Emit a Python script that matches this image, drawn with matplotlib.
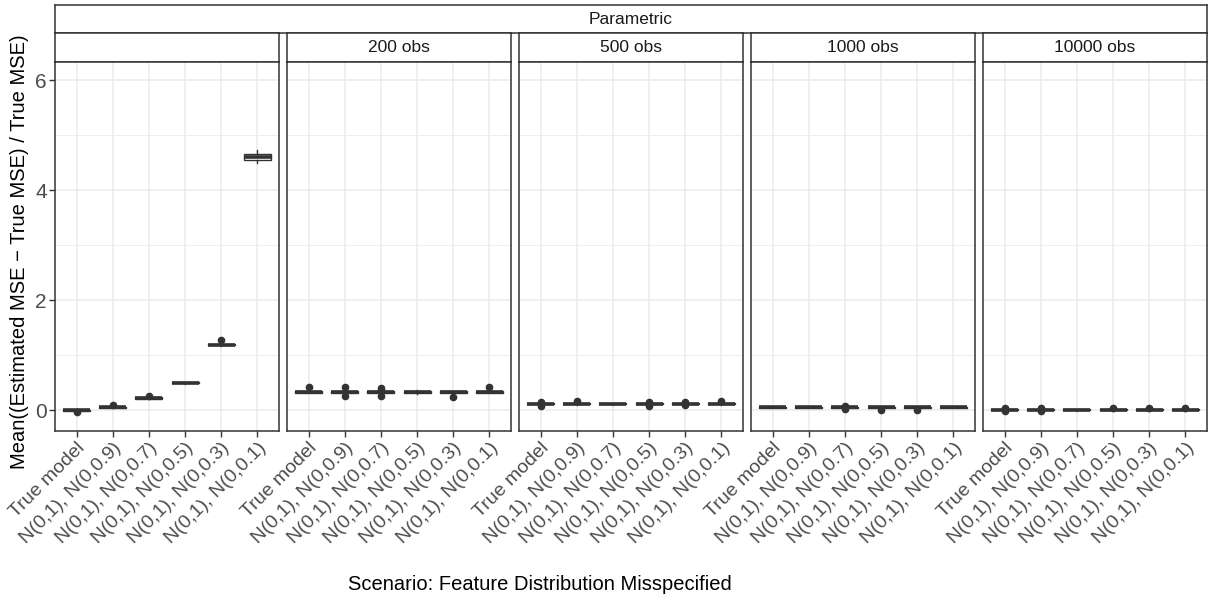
import matplotlib
matplotlib.use("Agg")
import matplotlib.pyplot as plt

plt.rcParams['font.family'] = ['Liberation Sans', 'DejaVu Sans']

# ----------------------------
# Data
# ----------------------------
group_label = "Parametric"
panels = ["", "200 obs", "500 obs", "1000 obs", "10000 obs"]
scenarios = ["True model", "N(0,1), N(0,0.9)", "N(0,1), N(0,0.7)",
             "N(0,1), N(0,0.5)", "N(0,1), N(0,0.3)", "N(0,1), N(0,0.1)"]

medians = [
    [0.00, 0.055, 0.22, 0.50, 1.19, 4.60],
    [0.33, 0.33, 0.33, 0.33, 0.33, 0.33],
    [0.115, 0.115, 0.115, 0.115, 0.115, 0.115],
    [0.05, 0.05, 0.05, 0.05, 0.05, 0.05],
    [0.005, 0.005, 0.005, 0.005, 0.005, 0.005],
]
q1s = [
    [-0.01, 0.045, 0.21, 0.49, 1.18, 4.55],
    [0.32, 0.32, 0.32, 0.32, 0.32, 0.32],
    [0.105, 0.105, 0.105, 0.105, 0.105, 0.105],
    [0.04, 0.04, 0.04, 0.04, 0.04, 0.04],
    [-0.005, -0.005, -0.005, -0.005, -0.005, -0.005],
]
q3s = [
    [0.01, 0.065, 0.23, 0.51, 1.20, 4.65],
    [0.34, 0.34, 0.34, 0.34, 0.34, 0.34],
    [0.125, 0.125, 0.125, 0.125, 0.125, 0.125],
    [0.06, 0.06, 0.06, 0.06, 0.06, 0.06],
    [0.015, 0.015, 0.015, 0.015, 0.015, 0.015],
]
whis_lo = [
    [-0.02, 0.04, 0.20, 0.48, 1.17, 4.49],
    [0.31, 0.31, 0.31, 0.30, 0.31, 0.31],
    [0.10, 0.10, 0.10, 0.10, 0.10, 0.10],
    [0.035, 0.035, 0.035, 0.035, 0.035, 0.035],
    [-0.01, -0.01, -0.01, -0.01, -0.01, -0.01],
]
whis_hi = [
    [0.02, 0.07, 0.24, 0.52, 1.21, 4.73],
    [0.35, 0.35, 0.35, 0.36, 0.35, 0.35],
    [0.13, 0.13, 0.13, 0.13, 0.13, 0.13],
    [0.065, 0.065, 0.065, 0.065, 0.065, 0.065],
    [0.02, 0.02, 0.02, 0.02, 0.02, 0.02],
]
outliers = [
    [[-0.04], [0.10], [0.26], [], [1.27], []],
    [[0.42], [0.42, 0.25], [0.40, 0.36, 0.26], [], [0.24], [0.42]],
    [[0.14, 0.08], [0.16], [], [0.14, 0.08], [0.14, 0.09], [0.16]],
    [[], [], [0.08, 0.02], [0.01], [0.01], []],
    [[0.03, -0.01], [0.03, -0.01], [], [0.03], [0.03], [0.03]],
]

y_ticks = [0, 2, 4, 6]
y_minor = [1, 3, 5]
y_lim = (-0.38, 6.33)

# ----------------------------
# Layout (pixels -> figure fraction)
# ----------------------------
W, H = 1208, 601
fig = plt.figure(figsize=(W / 100, H / 100), dpi=100)

left, right = 55, 1207
gap = 8
pw = (right - left - gap * (len(panels) - 1)) / len(panels)
top_strip = (5, 33)
sub_strip = (33, 62)
panel_y = (62, 431)

dark = "#333333"
grid = "#EBEBEB"
txt = "#4D4D4D"


def fy(y):
    return 1 - y / H


# top strip spanning all panels
sax = fig.add_axes([left / W, fy(top_strip[1]), (right - left) / W,
                    (top_strip[1] - top_strip[0]) / H])
sax.set_xticks([]); sax.set_yticks([])
for s in sax.spines.values():
    s.set_color(dark); s.set_linewidth(1.1)
sax.text(0.5, 0.5, group_label, ha="center", va="center",
         fontsize=12.5, color="#1A1A1A", transform=sax.transAxes)

first_ax = None
for p in range(len(panels)):
    x0 = left + p * (pw + gap)

    # sub strip
    st = fig.add_axes([x0 / W, fy(sub_strip[1]), pw / W,
                       (sub_strip[1] - sub_strip[0]) / H])
    st.set_xticks([]); st.set_yticks([])
    for s in st.spines.values():
        s.set_color(dark); s.set_linewidth(1.1)
    st.text(0.5, 0.5, panels[p], ha="center", va="center",
            fontsize=12.5, color="#1A1A1A", transform=st.transAxes)

    ax = fig.add_axes([x0 / W, fy(panel_y[1]), pw / W,
                       (panel_y[1] - panel_y[0]) / H])
    if first_ax is None:
        first_ax = ax

    stats = []
    for i in range(len(scenarios)):
        stats.append(dict(med=medians[p][i], q1=q1s[p][i], q3=q3s[p][i],
                          whislo=whis_lo[p][i], whishi=whis_hi[p][i],
                          fliers=outliers[p][i], label=scenarios[i]))
    positions = list(range(1, len(scenarios) + 1))
    ax.bxp(stats, positions=positions, widths=0.75, showcaps=False,
           patch_artist=True,
           boxprops=dict(facecolor="white", edgecolor=dark, linewidth=1.0),
           medianprops=dict(color=dark, linewidth=2.6, solid_capstyle="butt"),
           whiskerprops=dict(color=dark, linewidth=1.0),
           flierprops=dict(marker="o", markersize=4.5, markerfacecolor=dark,
                           markeredgecolor=dark, linestyle="none"),
           zorder=3)

    ax.set_xlim(0.4, len(scenarios) + 0.6)
    ax.set_ylim(*y_lim)
    ax.set_yticks(y_ticks)
    ax.set_yticks(y_minor, minor=True)
    ax.grid(True, which="major", color=grid, linewidth=1.1, zorder=0)
    ax.grid(True, which="minor", axis="y", color=grid, linewidth=0.6, zorder=0)
    ax.set_axisbelow(True)
    ax.set_xticks(positions)
    ax.set_xticklabels(scenarios, rotation=45, ha="right", va="top",
                       rotation_mode="anchor", fontsize=14, color=txt)
    ax.tick_params(axis="both", which="major", length=4, width=1.0,
                   color=dark, pad=2)
    ax.tick_params(axis="y", which="minor", length=0)
    if p == 0:
        ax.tick_params(axis="y", labelsize=15, labelcolor=txt)
    else:
        ax.tick_params(axis="y", length=0, labelleft=False)
    for s in ax.spines.values():
        s.set_color(dark); s.set_linewidth(1.1)

fig.text(20 / W, fy(252), "Mean((Estimated MSE \u2212 True MSE) / True MSE)",
         rotation=90, ha="center", va="center", fontsize=14.5, color="black")
fig.text(540 / W, fy(585), "Scenario: Feature Distribution Misspecified",
         ha="center", va="center", fontsize=14.5, color="black")

fig.savefig("out.png", dpi=100)
